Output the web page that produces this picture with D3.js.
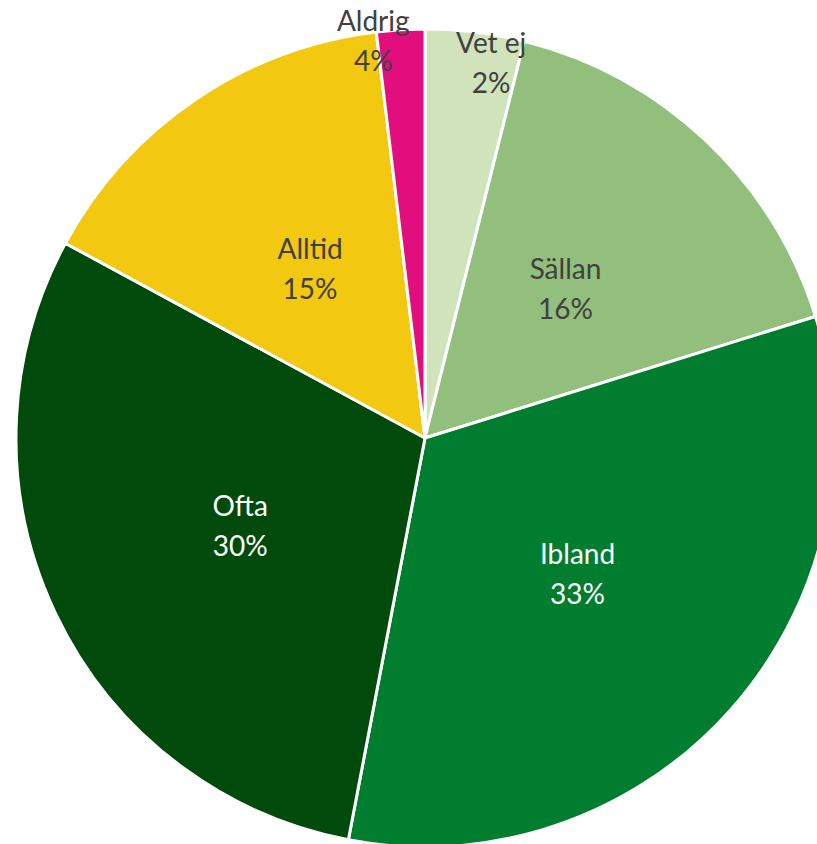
<!DOCTYPE html>
<html>
<head>
<meta charset="utf-8">
<script src="https://cdn.jsdelivr.net/npm/d3@7"></script>
<style>
  html, body { margin: 0; padding: 0; background: #fff; }
  svg { display: block; }
</style>
</head>
<body>
<svg id="chart"></svg>
<script>
// categories clockwise from 12 o'clock
var categories = ["Vet ej", "Sällan", "Ibland", "Ofta", "Alltid", "Aldrig"];
var values = [3.9, 16.3, 32.8, 29.9, 15.2, 1.9];
// label text as printed on the chart
var pctLabels = ["2%", "16%", "33%", "30%", "15%", "4%"];
var colors = ["#d0e3bb", "#92bf7c", "#007d2e", "#004a0c", "#f2c811", "#e20e7d"];

var W = 817, H = 844;
var cx = 425, cy = 438, R = 409;

var svg = d3.select("#chart").attr("width", W).attr("height", H);
var g = svg.append("g").attr("transform", `translate(${cx}, ${cy})`);

var pie = d3.pie().sort(null).value(function(d) { return d; });
var arcs = pie(values);

var arc = d3.arc().innerRadius(0).outerRadius(R);

g.selectAll("path")
    .data(arcs)
    .enter().append("path")
    .attr("d", arc)
    .attr("fill", function(d, i) { return colors[i]; })
    .attr("stroke", "#fff")
    .attr("stroke-width", 3)
    .attr("stroke-linejoin", "round");

// small slices get their labels pushed out near the rim (like excel best fit)
var nudge = {
    "Vet ej": { r: 0.93, da: 3 },
    "Aldrig": { r: 0.98, da: -4 }
};
var darkText = ["Ibland", "Ofta"];

var labels = g.selectAll("text.lbl")
    .data(arcs)
    .enter().append("text")
    .attr("class", "lbl")
    .attr("text-anchor", "middle")
    .style("font-family", "Lato, 'Open Sans', sans-serif")
    .style("font-size", "28px")
    .attr("fill", function(d, i) { return darkText.indexOf(categories[i]) >= 0 ? "#ffffff" : "#404040"; })
    .attr("transform", function(d, i) {
        var n = nudge[categories[i]] || { r: 0.5, da: 0 };
        var a = (d.startAngle + d.endAngle) / 2 + n.da * Math.PI / 180;
        var r = R * n.r;
        return `translate(${r * Math.sin(a)}, ${-r * Math.cos(a)})`;
    });

labels.append("tspan")
    .attr("x", 0).attr("y", -10)
    .text(function(d, i) { return categories[i]; });
labels.append("tspan")
    .attr("x", 0).attr("y", 30)
    .text(function(d, i) { return pctLabels[i]; });
</script>
</body>
</html>
